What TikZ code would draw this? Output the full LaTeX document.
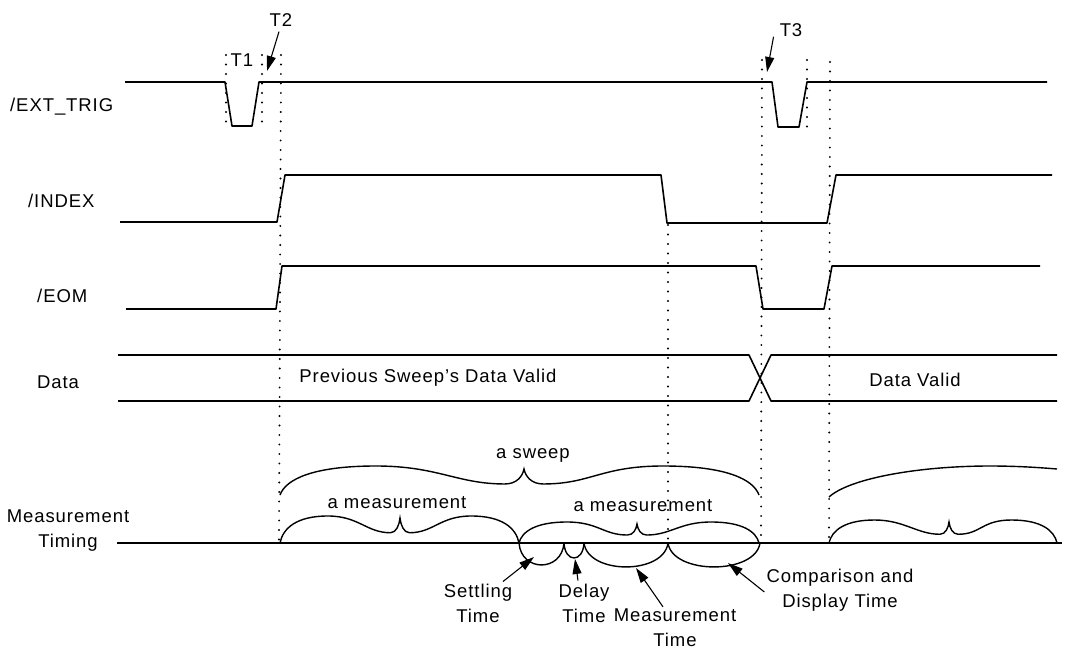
\documentclass[tikz,border=0pt]{standalone}
\usepackage{fontspec}
\setmainfont{Liberation Sans}[LetterSpace=5]
\usetikzlibrary{arrows.meta}
\newcommand{\brup}[6]{%
\draw[brc] (#1,#4)
 .. controls ({#1+0.012*(#2-#1)},{#5+0.45*(#4-#5)}) and ({#1+0.07*(#2-#1)},#5) .. ({#1+0.2*(#2-#1)},#5)
 .. controls ({#1+0.33*(#2-#1)},#5) and ({#3-0.14*(#2-#1)},{#5+0.62*(#4-#5)}) .. ({#3-0.04*(#2-#1)},{#5+0.62*(#4-#5)})
 .. controls ({#3-0.015*(#2-#1)},{#5+0.62*(#4-#5)}) and ({#3-0.003*(#2-#1)},{#6+0.25*(#4-#5)}) .. (#3,#6)
 .. controls ({#3+0.003*(#2-#1)},{#6+0.25*(#4-#5)}) and ({#3+0.015*(#2-#1)},{#5+0.62*(#4-#5)}) .. ({#3+0.04*(#2-#1)},{#5+0.62*(#4-#5)})
 .. controls ({#3+0.14*(#2-#1)},{#5+0.62*(#4-#5)}) and ({#2-0.33*(#2-#1)},#5) .. ({#2-0.2*(#2-#1)},#5)
 .. controls ({#2-0.07*(#2-#1)},#5) and ({#2-0.012*(#2-#1)},{#5+0.45*(#4-#5)}) .. (#2,#4);}
\newcommand{\bowlbr}[3]{%
\draw[brc] (#1,543) .. controls ({#1+0.05*(#2-#1)},{543+1.33*#3}) and ({#2-0.05*(#2-#1)},{543+1.33*#3}) .. (#2,543);}
\begin{document}
\begin{tikzpicture}[x=1pt,y=-1pt,
 sig/.style={line width=1.6pt, line join=round},
 dots/.style={line width=2.1pt, dash pattern=on 0pt off 9.5pt, line cap=round},
 brc/.style={line width=1.4pt},
 lbl/.style={font=\fontsize{18.5}{25}\selectfont, inner sep=0pt},
 arr/.style={line width=1.1pt, -{Triangle[length=15pt,width=9pt]}}]
\useasboundingbox (0,0) rectangle (1065,652);
% signals
\draw[sig] (125,82) -- (225,82) -- (232,126) -- (252,126) -- (259,82) -- (772,82) -- (778,127) -- (799,127) -- (807,82) -- (1047,82);
\draw[sig] (120,222) -- (277,222) -- (285,175) -- (661,175) -- (667,223) -- (827,223) -- (836,175) -- (1052,175);
\draw[sig] (126,309) -- (276,309) -- (282,266) -- (756,266) -- (763,309) -- (824,309) -- (832,266) -- (1040,266);
\draw[sig] (118,355) -- (749,355) -- (771,401) -- (1057,401);
\draw[sig] (118,401) -- (749,401) -- (771,355) -- (1057,355);
\draw[sig] (117,543) -- (1062,543);
% dotted guides
\draw[dots] (226,55) -- (226,128);
\draw[dots] (262,55) -- (262,128);
\draw[dots] (281,55) -- (279,541);
\draw[dots] (668,225) -- (668,541);
\draw[dots] (762,60) -- (761,541);
\draw[dots] (807,60) -- (807,133);
\draw[dots] (830,62) -- (829,541);
% braces
\brup{280}{759}{524}{495}{466}{469}
\brup{280}{519}{400}{543}{516}{518}
\brup{519}{759}{637}{543}{522}{524}
\brup{829}{1057}{949}{543}{520}{522}
\draw[brc] (829,497) .. controls (850,478) and (920,466) .. (990,466) .. controls (1020,466) and (1045,468) .. (1057,469);
\bowlbr{519}{564}{22}
\bowlbr{564}{584}{15}
\bowlbr{584}{668}{24}
\bowlbr{668}{760}{24}
% labels
\node[lbl, anchor=west] (ext) at (10,107) {/EXT\_TRIG};
\node[lbl, anchor=west] (idx) at (28,201) {/INDEX};
\node[lbl, anchor=west] (eom) at (37,296) {/EOM};
\node[lbl, anchor=west] (dat) at (37,382) {Data};
\node[lbl, align=center] (mt) at (68,531) {Measurement\\Timing};
\node[lbl] (t1) at (242,60) {T1};
\node[lbl] (t2) at (281,20) {T2};
\node[lbl] (t3) at (791,30) {T3};
\node[lbl] (prev) at (428,378) {Previous Sweep's Data Valid};
\node[lbl] (dv) at (915,380) {Data Valid};
\node[lbl] (sw) at (533,455) {a sweep};
\node[lbl] (m1) at (397,503) {a measurement};
\node[lbl] (m2) at (643,506) {a measurement};
\node[lbl, align=center] (set) at (478,603) {Settling\\Time};
\node[lbl, align=center] (del) at (584,603) {Delay\\Time};
\node[lbl, align=center] (mea) at (675,628) {Measurement\\Time};
\node[lbl, align=center] (com) at (840,590) {Comparison and\\Display Time};
% arrow targets
\coordinate (t2tip) at (267,71);
\coordinate (t3tip) at (767,72);
\coordinate (settip) at (534,557);
\coordinate (deltip) at (575,559);
\coordinate (meatip) at (636,568);
\coordinate (comtip) at (728,563);
\draw[arr] ([xshift=-2pt,yshift=-5pt]t2.south) -- (t2tip);
\draw[arr] ([xshift=-6pt]t3.south west) -- (t3tip);
\draw[arr] ([xshift=25pt,yshift=2pt]set.north) -- (settip);
\draw[arr] ([xshift=-6pt,yshift=3pt]del.north) -- (deltip);
\draw[arr] ([xshift=-12pt,yshift=2pt]mea.north) -- (meatip);
\draw[arr] ([xshift=-2pt,yshift=-2pt]com.west) -- (comtip);
\end{tikzpicture}
\end{document}
